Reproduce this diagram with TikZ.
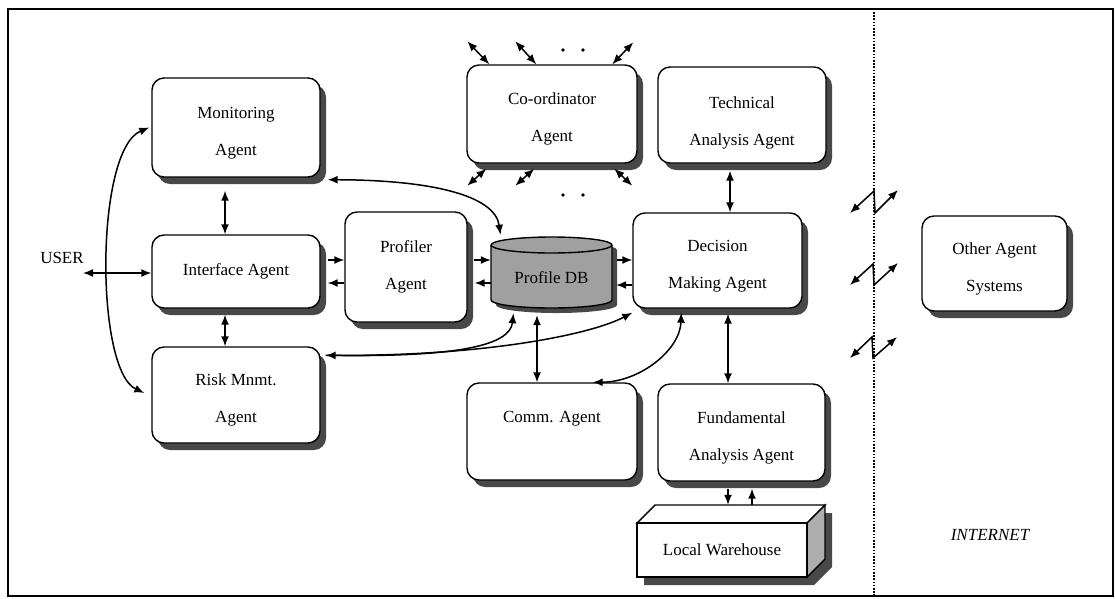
\documentclass[tikz,border=0pt]{standalone}
\usepackage{fontspec}
\setmainfont{Liberation Serif}
\usetikzlibrary{arrows.meta,shadows,calc}
\definecolor{shadowgray}{HTML}{484848}
\definecolor{dbgray}{HTML}{A0A0A0}
\definecolor{sidegray}{HTML}{ADADAD}
% extra room above the first line of two-line labels
\newcommand\lift{\rule{0pt}{22pt}}
\newcommand\liftmore{\rule{0pt}{28pt}}
\begin{document}
\begin{tikzpicture}[x=1pt,y=-1pt,
  >={Latex[length=10pt,width=8pt]},
  agent/.style={draw, line width=1.4pt, rounded corners=12pt, fill=white,
    align=center, inner sep=0pt, font=\fontsize{17}{37}\selectfont,
    drop shadow={shadow xshift=6pt, shadow yshift=-7pt, fill=shadowgray, opacity=1}},
  plaintext/.style={inner sep=0pt, font=\fontsize{17}{37}\selectfont, align=center},
  link/.style={line width=1.5pt},
  zig/.style={line width=1.5pt, <->}]
\useasboundingbox (0,0) rectangle (1115,598);

% outer frame and the boundary towards the internet
\draw[line width=1.6pt] (8,9) rectangle (1113,596);
\draw[line width=1.8pt, dash pattern=on 1.6pt off 1.6pt] (874,12) -- (874,596);

% agents
\node[agent, minimum width=168, minimum height=99] (mon) at (236,127.5) {\lift Monitoring\\Agent};
\node[agent, minimum width=168, minimum height=73] (intf) at (236,271.5) {Interface Agent};
\node[agent, minimum width=168, minimum height=96] (risk) at (236,395) {\lift Risk Mnmt.\\Agent};
\node[agent, minimum width=122, minimum height=110] (prof) at (406,267) {Profiler\\Agent};
\node[agent, minimum width=170, minimum height=98] (coord) at (552,114) {\lift Co-ordinator\\Agent};
\node[agent, minimum width=168, minimum height=96] (tech) at (742,115) {\liftmore Technical\\Analysis Agent};
\node[agent, minimum width=169, minimum height=95] (dec) at (717.5,260.5) {\lift Decision\\Making Agent};
\node[agent, minimum width=170, minimum height=97, text height=12pt, text depth=31pt] (comm) at (552,431.5) {Comm. Agent};
\node[agent, minimum width=167, minimum height=97] (fund) at (741.5,432.5) {\lift Fundamental\\Analysis Agent};
\node[agent, minimum width=145, minimum height=95] (other) at (994.5,263.5) {\lift Other Agent\\Systems};

% profile database cylinder
\newcommand\dbOutline{(491,245) -- (491,300)
  .. controls (491,304.4) and (518.1,308) .. (551.5,308)
  .. controls (584.9,308) and (612,304.4) .. (612,300) -- (612,245)
  .. controls (612,240.6) and (584.9,237) .. (551.5,237)
  .. controls (518.1,237) and (491,240.6) .. (491,245) -- cycle}
\fill[shadowgray, shift={(5,5)}] \dbOutline;
\draw[line width=1.4pt, fill=dbgray] \dbOutline;
\draw[line width=1.4pt] (491,245) .. controls (491,249.4) and (518.1,253) .. (551.5,253)
  .. controls (584.9,253) and (612,249.4) .. (612,245);
\node[plaintext, minimum width=121, minimum height=71, text height=21pt, text depth=0pt] (db) at (551.5,272.5) {Profile DB};

% local warehouse block
\fill[shadowgray] (644,531) -- (662,513) -- (832,513) -- (832,567) -- (814,585) -- (644,585) -- cycle;
\draw[line width=1.4pt, fill=white] (637,523) -- (655,505) -- (825,505) -- (807,523) -- cycle;
\draw[line width=1.4pt, fill=sidegray] (807,523) -- (825,505) -- (825,559) -- (807,577) -- cycle;
\draw[line width=1.4pt, fill=white] (637,523) rectangle (807,577);
\node[plaintext, minimum width=170, minimum height=54] (wh) at (722,550) {Local Warehouse};

% free labels
\node[plaintext] (user) at (62,258) {USER};
\node[plaintext, font=\fontsize{17}{37}\selectfont\itshape] (inet) at (990,535) {INTERNET};

% user side
\coordinate (userend) at (83,273);
\draw[link,<->] (userend) -- (userend -| intf.west);
\draw[link,<->] ($(mon.west)+(-2,0)$) .. controls (95,150) and (95,370) .. ($(risk.west)+(-7,-2)$);
\draw[link,<->] ($(mon.south)+(-11,13)$) -- ($(intf.north)+(-11,0)$);
\draw[link,<->] ($(intf.south)+(-11,6)$) -- ($(risk.north)+(-11,0)$);

% interface / profiler / database / decision pairs
\draw[link,->] ($(intf.east)+(7,-11.5)$) -- ($(prof.west)+(0,-7)$);
\draw[link,<-] ($(intf.east)+(7,11.5)$) -- ($(prof.west)+(0,16)$);
\draw[link,->] ($(prof.east)+(6,-7)$) -- ($(db.west)+(0,-12.5)$);
\draw[link,<-] ($(prof.east)+(7,16)$) -- ($(db.west)+(0,10.5)$);
\draw[link,->] ($(db.east)+(5,-12.5)$) -- ($(dec.west)+(0,-0.5)$);
\draw[link,<-] ($(db.east)+(4,12.5)$) -- ($(dec.west)+(0,24.5)$);

% curved links to the database and the decision agent
\draw[link,<->] ($(mon.south east)+(7,2)$) .. controls (430,180) and (495,195) .. ($(db.north)+(-51,-2)$);
\draw[link,<->] ($(risk.north east)+(5,9)$) .. controls (460,357) and (510,345) .. ($(db.south)+(-38,5)$);
\draw[link,->] ($(risk.north east)+(5,9)$) .. controls (480,357) and (590,335) .. ($(dec.south west)+(0,4)$);
\draw[link,<->] ($(dec.south west)+(49,4)$) .. controls (680,350) and (640,382) .. ($(comm.north east)+(-45,0)$);

% vertical links
\draw[link,<->] ($(db.south)+(-14.5,7)$) -- ($(comm.north)+(-15,0)$);
\draw[link,<->] ($(dec.south)+(10.5,5)$) -- ($(fund.north)+(-13.5,0)$);
\draw[link,<->] ($(tech.south)+(-12,7)$) -- ($(dec.north)+(12.5,0)$);
\draw[link,->] ($(fund.south)+(-13.5,7)$) -- ($(wh.north)+(6,-18)$);
\draw[link,->] ($(wh.north)+(30,-18)$) -- ($(fund.south)+(10.5,7)$);

% co-ordinator links to further agents
\draw[link,<->] ($(coord.north west)+(1,-23)$) -- ($(coord.north west)+(23,0)$);
\draw[link,<->] ($(coord.north west)+(49,-23)$) -- ($(coord.north west)+(70,0)$);
\draw[link,<->] ($(coord.north west)+(146,0)$) -- ($(coord.north west)+(167,-22)$);
\draw[link,<->] ($(coord.south west)+(20,5)$) -- ($(coord.south west)+(1,22)$);
\draw[link,<->] ($(coord.south west)+(68,5)$) -- ($(coord.south west)+(49,22)$);
\draw[link,<->] ($(coord.south west)+(148,5)$) -- ($(coord.south west)+(166,22)$);
\fill (563,50) circle[radius=1.9pt] (583,50) circle[radius=1.9pt];
\fill (563,195) circle[radius=1.9pt] (583,195) circle[radius=1.9pt];

% links across the internet boundary
\coordinate (z1a) at (850,213); \coordinate (z1b) at (874,191);
\coordinate (z1c) at (875,213); \coordinate (z1d) at (898,190);
\coordinate (z2a) at (850,285); \coordinate (z2b) at (873,264);
\coordinate (z2c) at (874,285); \coordinate (z2d) at (898,263);
\coordinate (z3a) at (850,358); \coordinate (z3b) at (872,337);
\coordinate (z3c) at (873,358); \coordinate (z3d) at (897,337);
\draw[zig] (z1a) -- (z1b) -- (z1c) -- (z1d);
\draw[zig] (z2a) -- (z2b) -- (z2c) -- (z2d);
\draw[zig] (z3a) -- (z3b) -- (z3c) -- (z3d);
\end{tikzpicture}
\end{document}
